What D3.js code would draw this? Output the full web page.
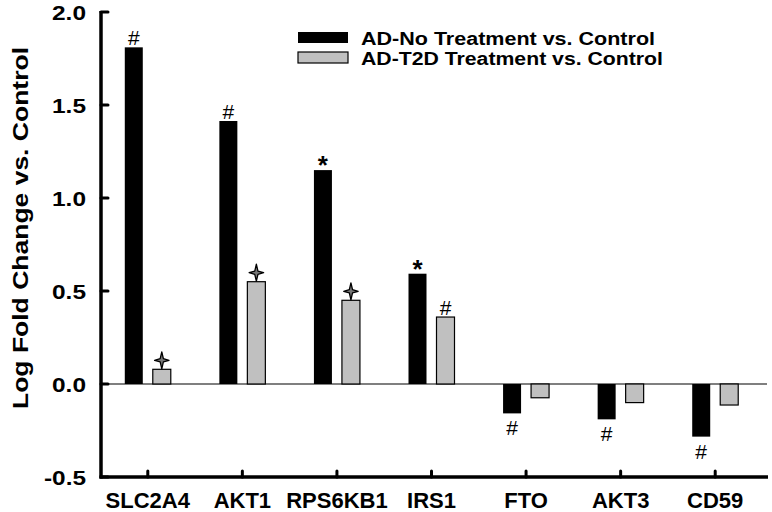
<!DOCTYPE html>
<html>
<head>
<meta charset="utf-8">
<script src="https://cdn.jsdelivr.net/npm/d3@7/dist/d3.min.js"></script>
<style>
  html, body { margin: 0; padding: 0; background: #fff; }
  svg { display: block; }
  text { font-family: "Liberation Sans", Arial, sans-serif; }
</style>
</head>
<body>
<svg id="chart" width="772" height="512"></svg>
<script>
// ---- data ----
const categories = ["SLC2A4", "AKT1", "RPS6KB1", "IRS1", "FTO", "AKT3", "CD59"];
const seriesNames = ["AD-No Treatment vs. Control", "AD-T2D Treatment vs. Control"];
const noTreatment = [1.81, 1.414, 1.15, 0.593, -0.158, -0.19, -0.283];
const t2dTreatment = [0.079, 0.55, 0.45, 0.36, -0.074, -0.10, -0.113];
const noTreatmentMarks = ["#", "#", "*", "*", "#", "#", "#"];
const t2dTreatmentMarks = ["star", "star", "star", "#", "", "", ""];
const yTicks = [-0.5, 0.0, 0.5, 1.0, 1.5, 2.0];
const yTickLabels = ["-0.5", "0.0", "0.5", "1.0", "1.5", "2.0"];
const yTitle = "Log Fold Change vs. Control";
const seriesColors = ["#000000", "#c0c0c0"];

// ---- layout ----
const svg = d3.select("#chart");
const axisX = 101, axisRight = 768;

const y = d3.scaleLinear().domain([-0.5, 2.0]).range([477, 12]);
const x = d3.scaleBand().domain(categories).range([100.5, 762.5]).padding(0);
const xi = d3.scaleBand().domain(seriesNames).range([-23, 23]).paddingInner(10 / 28).paddingOuter(0);

const seriesValues = [noTreatment, t2dTreatment];
const seriesMarks = [noTreatmentMarks, t2dTreatmentMarks];

// zero line
svg.append("line")
  .attr("x1", axisX).attr("x2", axisRight - 1)
  .attr("y1", y(0)).attr("y2", y(0))
  .attr("stroke", "#000").attr("stroke-width", 1.2);

// bars
seriesNames.forEach((s, si) => {
  const g = svg.append("g");
  g.selectAll("rect").data(categories).join("rect")
    .attr("x", c => x(c) + x.bandwidth() / 2 + xi(s))
    .attr("width", xi.bandwidth())
    .attr("y", (c, i) => y(Math.max(0, seriesValues[si][i])))
    .attr("height", (c, i) => Math.abs(y(seriesValues[si][i]) - y(0)))
    .attr("fill", seriesColors[si])
    .attr("stroke", "#000")
    .attr("stroke-width", si === 0 ? 0 : 1.2);
});

// star symbol path (4-pointed)
function starPath(cx, cy, r, inner) {
  const p = d3.path();
  p.moveTo(cx, cy - r);
  p.lineTo(cx + inner, cy - inner);
  p.lineTo(cx + r * 0.85, cy);
  p.lineTo(cx + inner, cy + inner);
  p.lineTo(cx, cy + r);
  p.lineTo(cx - inner, cy + inner);
  p.lineTo(cx - r * 0.85, cy);
  p.lineTo(cx - inner, cy - inner);
  p.closePath();
  return p.toString();
}

// annotations
seriesNames.forEach((s, si) => {
  categories.forEach((c, i) => {
    const m = seriesMarks[si][i];
    if (!m) return;
    const v = seriesValues[si][i];
    const cx = x(c) + x.bandwidth() / 2 + xi(s) + xi.bandwidth() / 2;
    if (m === "star") {
      const cy = y(v) - 9;
      svg.append("path")
        .attr("d", starPath(cx, cy, 8.5, 1.6))
        .attr("fill", "#777")
        .attr("stroke", "#000")
        .attr("stroke-width", 1.3)
        .attr("stroke-linejoin", "round");
    } else if (m === "#") {
      svg.append("text")
        .attr("x", cx)
        .attr("y", v >= 0 ? y(v) - 2 : y(v) + 22)
        .attr("text-anchor", "middle")
        .attr("font-family", "'Liberation Sans', sans-serif")
        .attr("font-size", 21)
        .text("#");
    } else if (m === "*") {
      svg.append("text")
        .attr("x", cx)
        .attr("y", y(v) + 4)
        .attr("text-anchor", "middle")
        .attr("font-size", 26)
        .attr("font-weight", "bold")
        .text("*");
    }
  });
});

// y axis
svg.append("line")
  .attr("x1", axisX).attr("x2", axisX)
  .attr("y1", y(2.0) - 1).attr("y2", y(-0.5) + 1.5)
  .attr("stroke", "#000").attr("stroke-width", 3.5);
svg.append("g").selectAll("line").data(yTicks).join("line")
  .attr("x1", axisX).attr("x2", axisX + 7)
  .attr("y1", d => y(d)).attr("y2", d => y(d))
  .attr("stroke", "#000").attr("stroke-width", 3).attr("stroke-linecap", "round");

const yAxis = d3.axisLeft(y).tickValues(yTicks)
  .tickFormat((d, i) => yTickLabels[i]).tickSize(0).tickPadding(15);
const gy = svg.append("g").attr("transform", `translate(${axisX},0)`).call(yAxis);
gy.select(".domain").remove();
gy.selectAll("text")
  .attr("font-family", "'Liberation Sans', Arial, sans-serif")
  .attr("font-size", 21).attr("font-weight", "bold").attr("fill", "#000")
  .attr("dy", "0.36em")
  .attr("textLength", (d, i) => yTickLabels[i].length === 4 ? 42 : 34)
  .attr("lengthAdjust", "spacingAndGlyphs");

// x axis
svg.append("line")
  .attr("x1", axisX - 1.5).attr("x2", axisRight)
  .attr("y1", y(-0.5)).attr("y2", y(-0.5))
  .attr("stroke", "#000").attr("stroke-width", 3.5);
svg.append("g").selectAll("line").data(categories).join("line")
  .attr("x1", c => x(c) + x.bandwidth() / 2).attr("x2", c => x(c) + x.bandwidth() / 2)
  .attr("y1", y(-0.5)).attr("y2", y(-0.5) - 6)
  .attr("stroke", "#000").attr("stroke-width", 3).attr("stroke-linecap", "round");

const xAxis = d3.axisBottom(x).tickSize(0).tickPadding(15);
const gx = svg.append("g").attr("transform", `translate(0,${y(-0.5)})`).call(xAxis);
gx.select(".domain").remove();
gx.selectAll("text")
  .attr("font-family", "'Liberation Sans', Arial, sans-serif")
  .attr("font-size", 22).attr("font-weight", "bold").attr("fill", "#000");

// y title
svg.append("text")
  .attr("transform", `translate(28,228) rotate(-90)`)
  .attr("text-anchor", "middle")
  .attr("font-size", 22).attr("font-weight", "bold")
  .attr("textLength", 362).attr("lengthAdjust", "spacingAndGlyphs")
  .text(yTitle);

// legend
const legend = svg.append("g");
const legendLengths = [294, 302];
seriesNames.forEach((s, si) => {
  const ly = 32 + si * 20;
  legend.append("rect")
    .attr("x", 298).attr("y", ly)
    .attr("width", 50).attr("height", 11)
    .attr("fill", seriesColors[si])
    .attr("stroke", "#000").attr("stroke-width", si === 0 ? 0 : 1.2);
  legend.append("text")
    .attr("x", 361).attr("y", ly + 13)
    .attr("font-size", 18).attr("font-weight", "bold")
    .attr("textLength", legendLengths[si]).attr("lengthAdjust", "spacingAndGlyphs")
    .text(s);
});
</script>
</body>
</html>
